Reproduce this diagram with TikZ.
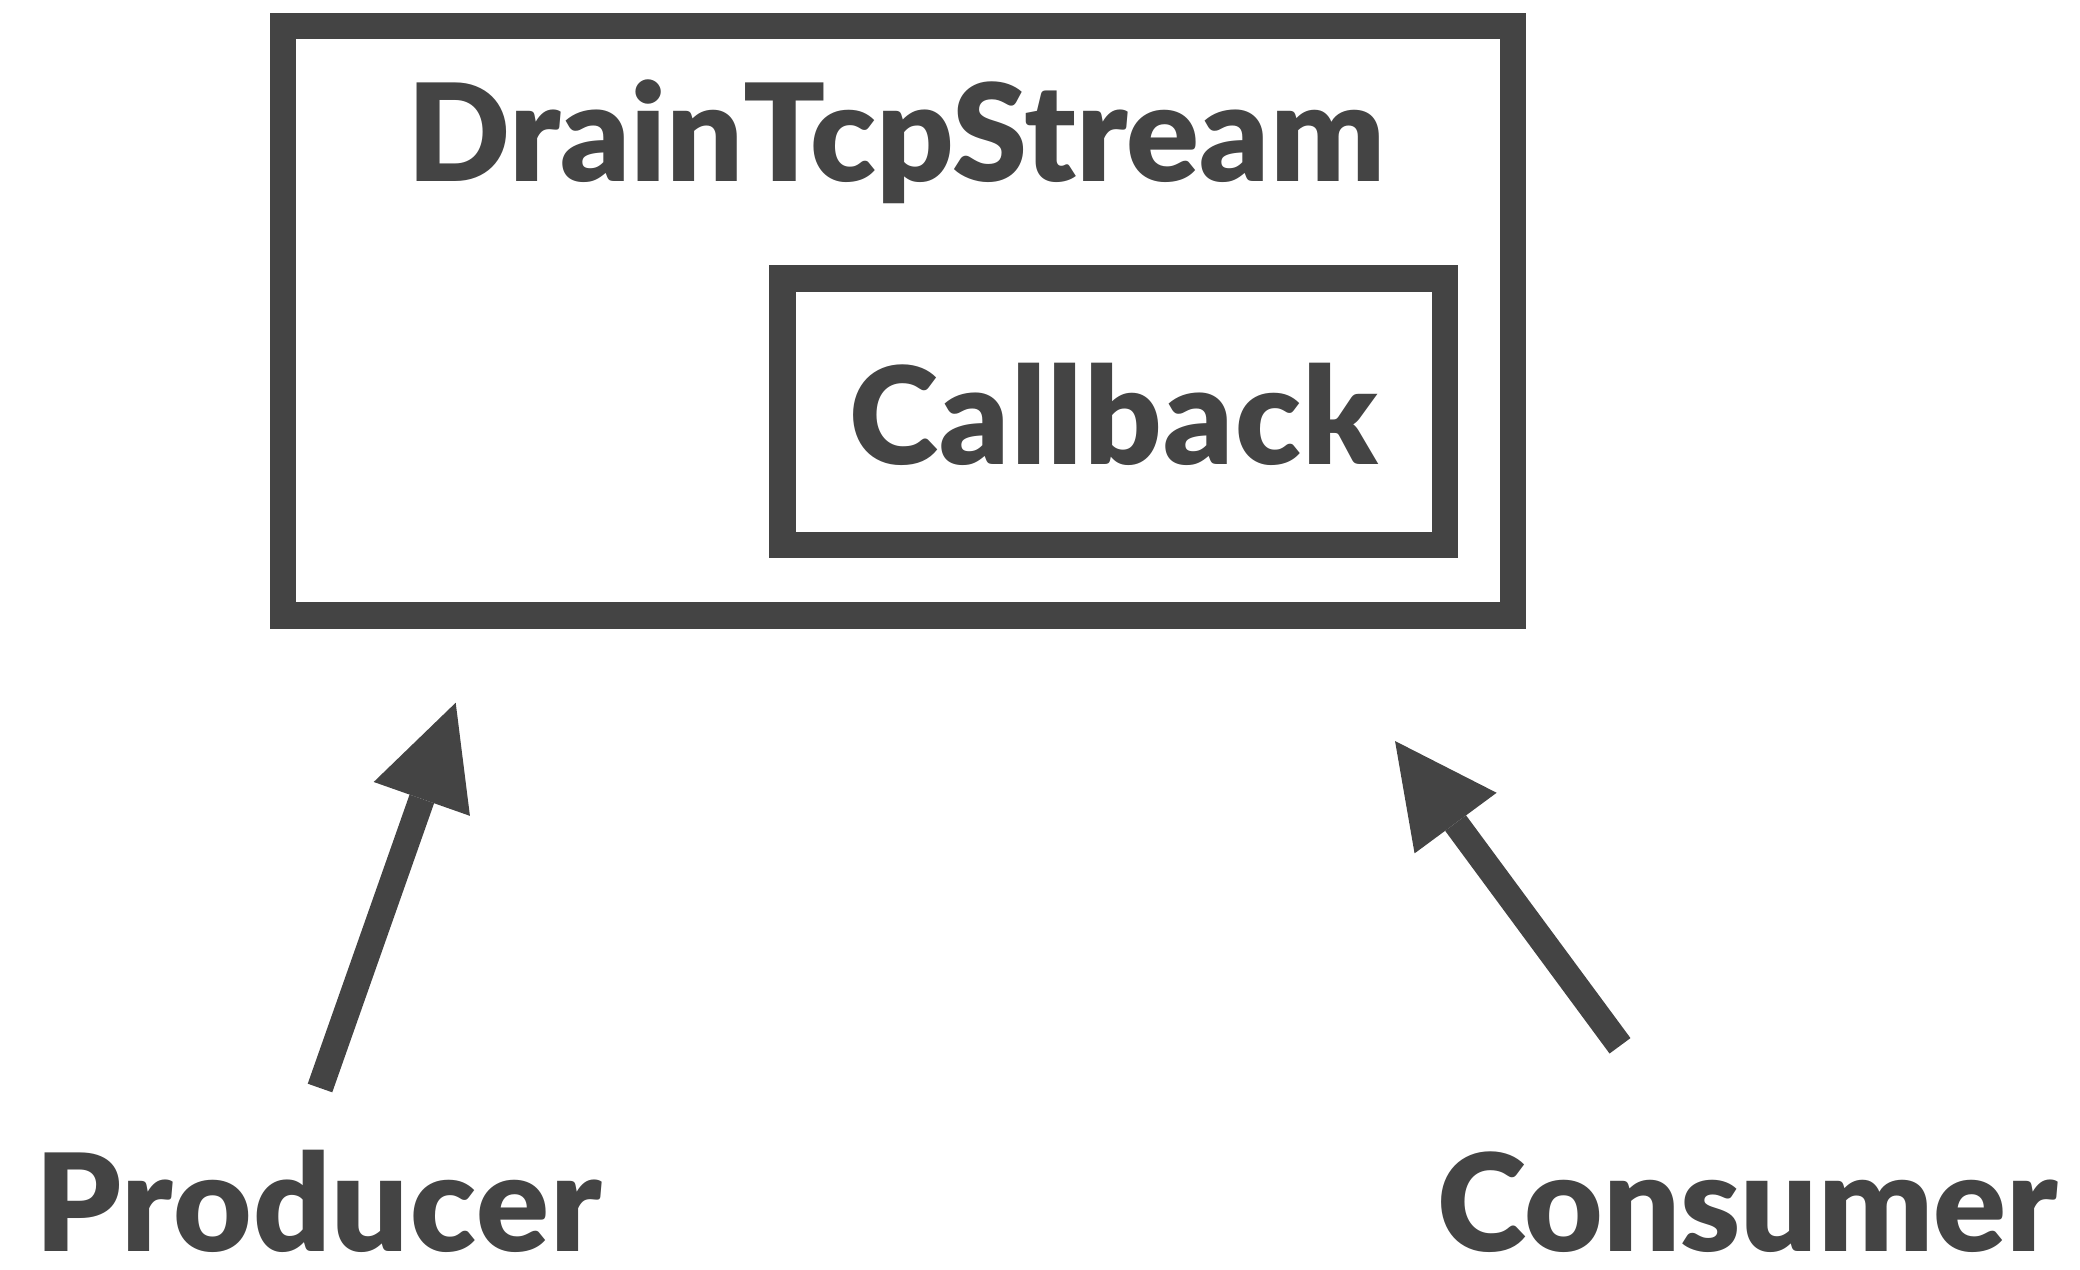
\documentclass[tikz,border=0pt]{standalone}
\usepackage{fontspec}
\setmainfont{Lato Black}
\usetikzlibrary{arrows.meta}
\definecolor{ink}{RGB}{68,68,68}
\begin{document}
\begin{tikzpicture}[x=0.5pt,y=-0.5pt,
  box/.style={draw=ink, line width=13.25pt, inner sep=0pt, outer sep=0pt, rectangle},
  lbl/.style={text=ink, inner sep=0pt, font=\fontsize{67.7pt}{80pt}\selectfont},
  arr/.style={draw=ink, line width=13pt, line cap=butt,
    -{Triangle[length=51pt,width=51pt,line width=0pt]}}]
\useasboundingbox (0,0) rectangle (2080,1269);
\node[box, minimum width=615pt, minimum height=294.85pt] (stream) at (898,320.85) {};
\node[box, minimum width=331.25pt, minimum height=133.35pt] (cbbox) at (1113.75,411.65) {};
\node[lbl, anchor=base] (title) at (896,181) {Drain\kern0pt TcpStream};
\node[lbl, anchor=base] (cbtext) at (1113.75,464) {\addfontfeatures{LetterSpace=1.0}Callback};
\node[lbl, anchor=base, text depth=0pt] (prod) at (318.5,1251) {\addfontfeatures{LetterSpace=0.8}Producer};
\node[lbl, anchor=base, text depth=0pt] (cons) at (1747.5,1251) {Consumer};
\coordinate (ptail) at (320,1088);
\coordinate (ptip) at (455.7,702.7);
\coordinate (ctail) at (1620,1045.8);
\coordinate (ctip) at (1395,741);
\draw[arr] (ptail) -- (ptip);
\draw[arr] (ctail) -- (ctip);
\end{tikzpicture}
\end{document}
